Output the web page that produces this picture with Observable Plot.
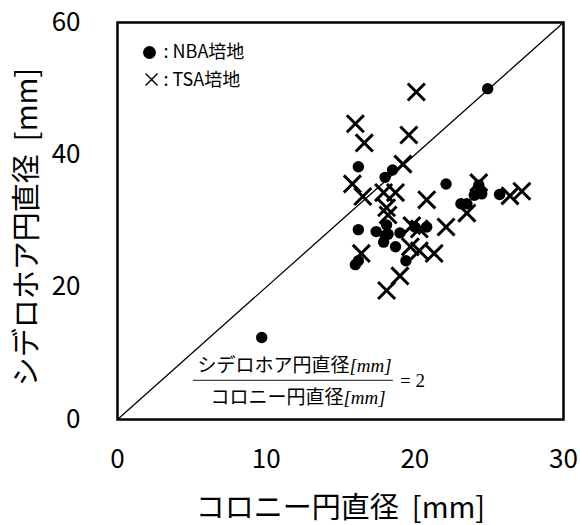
<!DOCTYPE html>
<html><head><meta charset="utf-8">
<script src="https://cdn.jsdelivr.net/npm/d3@7"></script>
<script src="https://cdn.jsdelivr.net/npm/@observablehq/plot@0.6"></script>
<style>body{margin:0;background:#fff}</style>
</head><body><div id="chart"></div>
<script>
// NBA培地 (filled circles)
const nbaX = [24.9, 16.2, 18.5, 18.0, 22.1, 24.3, 24.5, 24.0, 23.1, 23.5, 25.7, 16.2, 17.4, 18.1, 18.2, 17.9, 18.7, 19.0, 20.0, 20.8, 19.4, 16.0, 16.2, 9.7, 18.0];
const nbaY = [50.0, 38.2, 37.7, 36.6, 35.6, 35.4, 34.1, 33.9, 32.6, 32.6, 34.0, 28.7, 28.4, 29.4, 28.0, 26.8, 26.1, 28.2, 29.1, 29.1, 24.0, 23.4, 24.0, 12.4, 27.8];
// TSA培地 (crosses)
const tsaX = [20.1, 16.0, 16.6, 19.6, 19.2, 15.8, 16.5, 17.9, 18.7, 20.8, 24.3, 26.4, 27.2, 23.5, 22.1, 18.1, 18.2, 19.8, 20.3, 19.7, 20.3, 21.3, 16.4, 19.0, 18.1];
const tsaY = [49.5, 44.7, 41.8, 43.0, 38.6, 35.6, 33.7, 34.3, 34.3, 33.2, 35.8, 33.8, 34.5, 31.2, 29.1, 32.0, 30.9, 29.3, 28.8, 26.1, 25.5, 25.1, 25.1, 21.7, 19.5];

const xTicks = [0, 10, 20, 30];
const yTicks = [0, 20, 40, 60];
const xDomain = [0, 30];
const yDomain = [0, 60];
const ratio = 2;
const xLabel = "コロニー円直径  [mm]";
const yLabel = "シデロホア円直径  [mm]";
const legendLabels = [": NBA培地", ": TSA培地"];
const formulaNum = "シデロホア円直径";
const formulaDen = "コロニー円直径";
const formulaUnit = "[mm]";
const formulaRhs = "= 2";

const nba = nbaX.map((x, i) => ({x, y: nbaY[i]}));
const tsa = tsaX.map((x, i) => ({x, y: tsaY[i]}));
const refLine = xDomain.map(x => ({x, y: ratio * x}));

const sans = "'Noto Sans CJK JP', 'Noto Sans', sans-serif";
const serif = "'Liberation Serif', 'DejaVu Serif', serif";

const chart = Plot.plot({
  width: 580, height: 525,
  marginLeft: 117, marginRight: 17, marginTop: 22, marginBottom: 106,
  style: {fontFamily: sans, fontSize: "26px", background: "#fff", color: "#000", overflow: "visible"},
  x: {domain: xDomain, ticks: xTicks, tickSize: 0, tickPadding: 30, label: null},
  y: {domain: yDomain, ticks: yTicks, tickSize: 0, tickPadding: 37, label: null},
  marks: [
    Plot.line(refLine, {x: "x", y: "y", stroke: "#000", strokeWidth: 1.3}),
    Plot.dot(tsa, {x: "x", y: "y", symbol: "times", r: 7.8, stroke: "#000", strokeWidth: 3}),
    Plot.dot(nba, {x: "x", y: "y", r: 5.7, fill: "#000", stroke: "none"}),
    Plot.frame({stroke: "#000", strokeWidth: 2.5}),
    // legend
    Plot.dot([0], {frameAnchor: "top-left", dx: 32, dy: 30, r: 6.5, fill: "#000", stroke: "none"}),
    Plot.text(["×"], {frameAnchor: "top-left", dx: 34, dy: 58, text: d => d, textAnchor: "middle", lineAnchor: "middle", fontSize: 20, fontFamily: sans}),
    Plot.text([legendLabels[0]], {frameAnchor: "top-left", dx: 46, dy: 30, text: d => d, textAnchor: "start", lineAnchor: "middle", fontSize: 18, fontFamily: sans}),
    Plot.text([legendLabels[1]], {frameAnchor: "top-left", dx: 46, dy: 58, text: d => d, textAnchor: "start", lineAnchor: "middle", fontSize: 18, fontFamily: sans}),
    // formula annotation
    Plot.text([{x: 15.6, y: 8.16, t: formulaNum}], {x: "x", y: "y", text: "t", textAnchor: "end", fontSize: 19, fontFamily: sans}),
    Plot.text([{x: 15.6, y: 8.16, t: formulaUnit}], {x: "x", y: "y", text: "t", textAnchor: "start", fontSize: 19, fontStyle: "italic", fontFamily: serif}),
    Plot.ruleY([{y: 5.9, x1: 5.11, x2: 18.56}], {y: "y", x1: "x1", x2: "x2", stroke: "#444", strokeWidth: 1.3}),
    Plot.text([{x: 15.2, y: 3.32, t: formulaDen}], {x: "x", y: "y", text: "t", textAnchor: "end", fontSize: 19, fontFamily: sans}),
    Plot.text([{x: 15.2, y: 3.32, t: formulaUnit}], {x: "x", y: "y", text: "t", textAnchor: "start", fontSize: 19, fontStyle: "italic", fontFamily: serif}),
    Plot.text([{x: 19.0, y: 5.9, t: formulaRhs}], {x: "x", y: "y", text: "t", textAnchor: "start", fontSize: 19, fontFamily: serif}),
    // axis titles
    Plot.text([yLabel], {frameAnchor: "left", dx: -90, dy: 6, rotate: -90, text: d => d, textAnchor: "middle", lineAnchor: "middle", fontSize: 29, fontFamily: sans}),
    Plot.text([xLabel], {frameAnchor: "bottom", dy: 89, text: d => d, textAnchor: "middle", lineAnchor: "middle", fontSize: 29, fontFamily: sans})
  ]
});
document.getElementById("chart").appendChild(chart);
</script>
</body></html>
